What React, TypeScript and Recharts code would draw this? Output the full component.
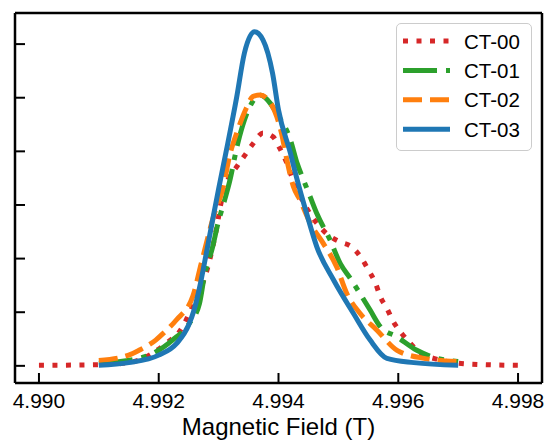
import React from 'react';
import { LineChart, Line, XAxis, YAxis, Legend } from 'recharts';

const ct00X = [4.990, 4.991, 4.9915, 4.99189, 4.9921, 4.9924, 4.99251, 4.99285, 4.99296, 4.99305, 4.99313, 4.9933, 4.99344, 4.99358, 4.99374, 4.99391, 4.99402, 4.99414, 4.99422, 4.99444, 4.99467, 4.99483, 4.99503, 4.99522, 4.99539, 4.9955, 4.99562, 4.9957, 4.99581, 4.99592, 4.99606, 4.9962, 4.99637, 4.99659, 4.997, 4.9975, 4.998];
const ct00Y = [0.01, 0.02, 0.06, 0.23, 0.4, 0.73, 0.98, 1.97, 2.53, 3.09, 3.4, 3.71, 3.93, 4.15, 4.34, 4.27, 4.06, 3.78, 3.53, 3.0, 2.62, 2.44, 2.31, 2.22, 2.0, 1.79, 1.54, 1.29, 1.07, 0.82, 0.6, 0.42, 0.23, 0.14, 0.05, 0.02, 0.01];

const ct01X = [4.991, 4.9917, 4.99195, 4.99223, 4.99251, 4.99268, 4.99276, 4.9929, 4.99299, 4.9931, 4.99318, 4.99332, 4.99343, 4.99352, 4.99369, 4.99386, 4.99397, 4.9942, 4.99431, 4.99442, 4.99453, 4.99464, 4.99486, 4.99503, 4.9952, 4.99536, 4.99553, 4.9957, 4.99598, 4.99631, 4.99665, 4.997];
const ct01Y = [0.05, 0.15, 0.26, 0.48, 0.79, 1.16, 1.66, 2.22, 2.66, 3.09, 3.42, 4.15, 4.58, 4.83, 5.05, 4.9, 4.71, 4.21, 3.78, 3.46, 3.15, 2.84, 2.35, 1.91, 1.63, 1.35, 1.04, 0.73, 0.54, 0.29, 0.14, 0.08];

const ct02X = [4.991, 4.9915, 4.99167, 4.99195, 4.99207, 4.99229, 4.99257, 4.99271, 4.99293, 4.99307, 4.99318, 4.99332, 4.99346, 4.99357, 4.99369, 4.99383, 4.99397, 4.99405, 4.99414, 4.99425, 4.99436, 4.99453, 4.99475, 4.99497, 4.99514, 4.99536, 4.99564, 4.99598, 4.99643, 4.997];
const ct02Y = [0.1, 0.2, 0.29, 0.48, 0.6, 0.85, 1.3, 1.91, 2.84, 3.3, 3.9, 4.4, 4.8, 5.02, 5.05, 4.96, 4.65, 4.34, 3.84, 3.34, 3.09, 2.66, 2.28, 1.85, 1.35, 0.98, 0.67, 0.29, 0.14, 0.08];

const ct03X = [4.991, 4.9915, 4.992, 4.9923, 4.9925, 4.99259, 4.99268, 4.99279, 4.9929, 4.993, 4.99313, 4.9933, 4.99343, 4.9936, 4.99374, 4.9939, 4.994, 4.9942, 4.9943, 4.99447, 4.99464, 4.99492, 4.99525, 4.99553, 4.99581, 4.99626, 4.997];
const ct03Y = [0.01, 0.06, 0.2, 0.42, 0.76, 1.04, 1.45, 2.07, 2.72, 3.3, 4.02, 5.0, 5.83, 6.23, 6.08, 5.46, 4.77, 3.96, 3.52, 2.84, 2.22, 1.6, 0.98, 0.48, 0.14, 0.06, 0.01];

const seriesNames = ['CT-00', 'CT-01', 'CT-02', 'CT-03'];
const seriesColors = ['#d62728', '#2ca02c', '#ff7f0e', '#1f77b4'];
const seriesDash = ['5 8.5', '34 9 5.5 9', '19 8', undefined];

const xTicks = [4.990, 4.992, 4.994, 4.996, 4.998];
const yTicks = [0, 1, 2, 3, 4, 5, 6];
const xLabel = 'Magnetic Field (T)';

const zip = (xs: number[], ys: number[]) => xs.map((x, i) => ({ x, y: ys[i] }));
const seriesData = [zip(ct00X, ct00Y), zip(ct01X, ct01Y), zip(ct02X, ct02Y), zip(ct03X, ct03Y)];

const FONT = '"Liberation Sans", Arial, sans-serif';

const XTick = (props: any) => {
  const { x, y, payload } = props;
  return (
    <g>
      <line x1={x} y1={y} x2={x} y2={y - 10} stroke="#000" strokeWidth={2} />
      <text x={x} y={y + 25} textAnchor="middle" fontFamily={FONT} fontSize={21} fill="#000">
        {Number(payload.value).toFixed(3)}
      </text>
    </g>
  );
};

const YTick = (props: any) => {
  const { x, y } = props;
  return <line x1={x} y1={y} x2={x + 10} y2={y} stroke="#000" strokeWidth={2} />;
};

const LegendBox = () => (
  <div
    style={{
      width: 136,
      height: 128,
      boxSizing: 'border-box',
      border: '1.5px solid #cccccc',
      borderRadius: 5,
      background: 'rgba(255,255,255,0.8)',
    }}
  >
    <svg width={133} height={125} style={{ display: 'block' }}>
      {seriesNames.map((n, i) => {
        const cy = 17 + i * 29.4;
        return (
          <g key={n}>
            <line
              x1={6}
              x2={53}
              y1={cy}
              y2={cy}
              stroke={seriesColors[i]}
              strokeWidth={5}
              strokeDasharray={seriesDash[i]}
            />
            <text x={67} y={cy} dominantBaseline="central" fontFamily={FONT} fontSize={20.5} fill="#000">
              {n}
            </text>
          </g>
        );
      })}
    </svg>
  </div>
);

export default function App() {
  return (
    <div style={{ position: 'absolute', left: 0, top: 0, background: '#fff' }}>
      <LineChart width={547} height={444} margin={{ top: 12, right: 4, left: 14, bottom: 0 }}>
        <XAxis
          dataKey="x"
          type="number"
          domain={[4.9896, 4.9984]}
          allowDataOverflow
          ticks={xTicks}
          interval={0}
          height={61}
          tickSize={0}
          tickMargin={0}
          tickLine={false}
          axisLine={{ stroke: '#000', strokeWidth: 2.5 }}
          tick={<XTick />}
          label={(p: any) => {
            const vb = p.viewBox || { x: 15, width: 527 };
            return (
              <text x={vb.x + vb.width / 2} y={435} textAnchor="middle" fontFamily={FONT} fontSize={24} fill="#000">
                {xLabel}
              </text>
            );
          }}
        />
        <XAxis
          xAxisId="top"
          orientation="top"
          dataKey="x"
          type="number"
          domain={[4.9896, 4.9984]}
          height={1}
          tick={false}
          tickLine={false}
          axisLine={{ stroke: '#000', strokeWidth: 2.5 }}
        />
        <YAxis
          type="number"
          domain={[-0.32, 6.58]}
          allowDataOverflow
          ticks={yTicks}
          interval={0}
          width={1}
          tickSize={0}
          tickMargin={0}
          tickLine={false}
          axisLine={{ stroke: '#000', strokeWidth: 2.5 }}
          tick={<YTick />}
        />
        <YAxis
          yAxisId="right"
          orientation="right"
          type="number"
          domain={[-0.32, 6.58]}
          width={1}
          tick={false}
          tickLine={false}
          axisLine={{ stroke: '#000', strokeWidth: 2.5 }}
        />
        {seriesData.map((d, i) => (
          <Line
            key={seriesNames[i]}
            data={d}
            dataKey="y"
            name={seriesNames[i]}
            type="monotone"
            stroke={seriesColors[i]}
            strokeWidth={5}
            strokeDasharray={seriesDash[i]}
            dot={false}
            activeDot={false}
            isAnimationActive={false}
          />
        ))}
        <Legend
          layout="vertical"
          align="center"
          verticalAlign="middle"
          content={<LegendBox />}
          wrapperStyle={{ position: 'absolute', left: 396, top: 23, width: 136, height: 128 }}
        />
      </LineChart>
    </div>
  );
}
